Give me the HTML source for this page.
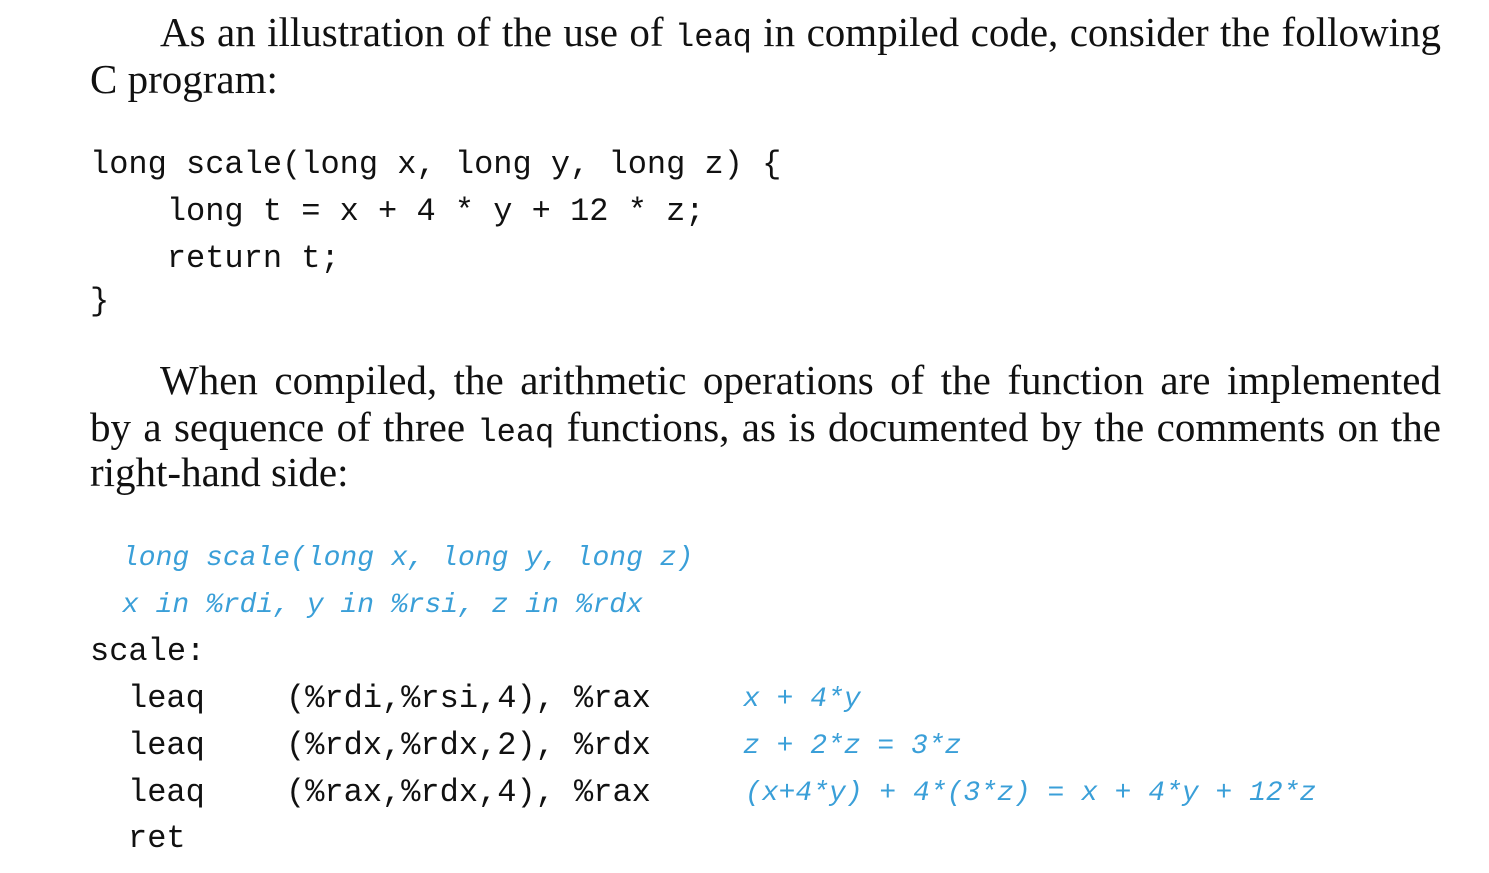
<!DOCTYPE html>
<html><head><meta charset="utf-8"><style>
body{margin:0;width:1489px;height:873px;background:#fff;position:relative;overflow:hidden;color:#111}
.s{position:absolute;font-family:"Liberation Serif",serif;font-size:41px;line-height:46px;white-space:nowrap;text-align:justify;text-align-last:justify}
.m{position:absolute;font-family:"Liberation Mono",monospace;font-size:32px;line-height:46px;white-space:pre}
.b{color:#3a9fd8;font-style:italic;font-size:28px}
.s code{font-family:"Liberation Mono",monospace;font-size:32px}
</style></head><body>
<div class="s" style="left:160px;top:9px;width:1281px">As an illustration of the use of <code>leaq</code> in compiled code, consider the following</div>
<div class="s" style="left:90px;top:56px;text-align-last:left">C program:</div>
<div class="m" style="left:90px;top:142px">long scale(long x, long y, long z) {</div>
<div class="m" style="left:90px;top:189px">    long t = x + 4 * y + 12 * z;</div>
<div class="m" style="left:90px;top:236px">    return t;</div>
<div class="m" style="left:90px;top:279px">}</div>
<div class="s" style="left:160px;top:357px;width:1281px">When compiled, the arithmetic operations of the function are implemented</div>
<div class="s" style="left:90px;top:404px;width:1351px">by a sequence of three <code>leaq</code> functions, as is documented by the comments on the</div>
<div class="s" style="left:90px;top:449px;text-align-last:left">right-hand side:</div>
<div class="m b" style="left:122px;top:536px">long scale(long x, long y, long z)</div>
<div class="m b" style="left:122px;top:583px">x in %rdi, y in %rsi, z in %rdx</div>
<div class="m" style="left:90px;top:629px">scale:</div>
<div class="m" style="left:128px;top:676px">leaq</div><div class="m" style="left:286px;top:676px">(%rdi,%rsi,4), %rax</div><div class="m b" style="left:743px;top:677px">x + 4*y</div>
<div class="m" style="left:128px;top:723px">leaq</div><div class="m" style="left:286px;top:723px">(%rdx,%rdx,2), %rdx</div><div class="m b" style="left:743px;top:724px">z + 2*z = 3*z</div>
<div class="m" style="left:128px;top:770px">leaq</div><div class="m" style="left:286px;top:770px">(%rax,%rdx,4), %rax</div><div class="m b" style="left:745px;top:771px">(x+4*y) + 4*(3*z) = x + 4*y + 12*z</div>
<div class="m" style="left:128px;top:816px">ret</div>
</body></html>
